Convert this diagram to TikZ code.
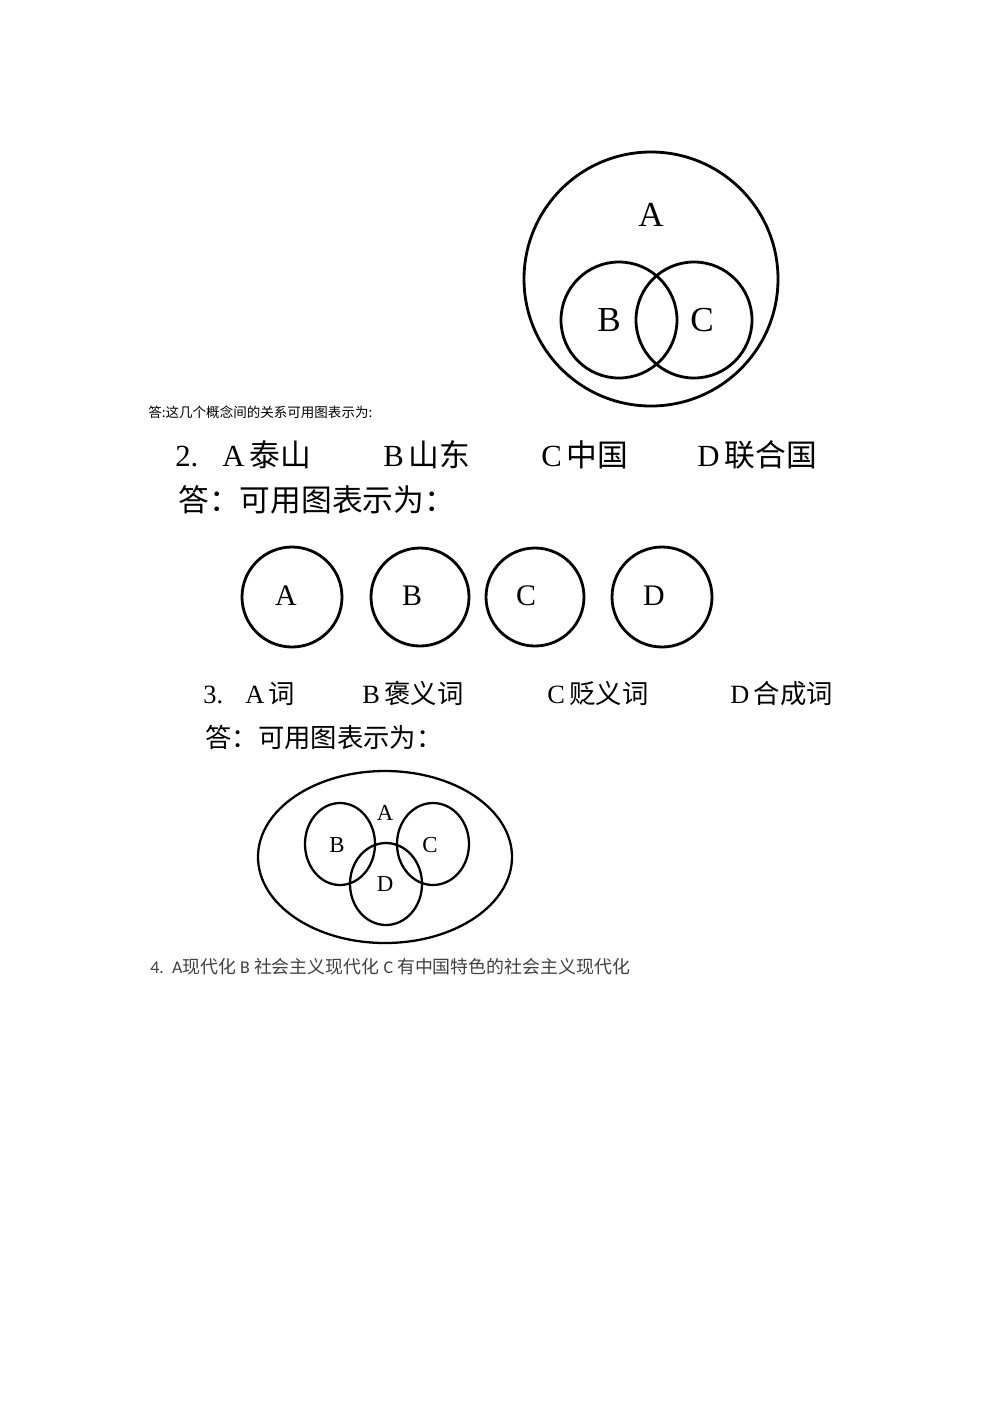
\documentclass[tikz,border=0pt]{standalone}
\usepackage{fontspec}
\setmainfont{Liberation Serif}
\newfontfamily\cjk{Noto Sans CJK SC}
\newfontfamily\calib{Carlito}
\usepackage{tikz}

\begin{document}
\begin{tikzpicture}[
    x=0.02cm,y=-0.02cm,ring/.style={line width=1.6pt},
    txt/.style={anchor=base west, inner sep=0pt},
    lab/.style={inner sep=0pt}
    ]
    \useasboundingbox (0,0) rectangle (992,1403);
    % first diagram
    \draw[ring] (651,279) circle (127);
    \draw[ring] (619,320) circle (58);
    \draw[ring] (694,320) circle (58);
    \node[lab, font=\fontsize{20}{22}\selectfont] (a1) at (651,215) {A};
    \node[lab, font=\fontsize{20}{22}\selectfont] (b1) at (609,320) {B};
    \node[lab, font=\fontsize{20}{22}\selectfont] (c1) at (702,320) {C};
    \node[txt, font=\fontsize{7.7}{9}\selectfont\cjk] (ans1) at (148,417) {答:这几个概念间的关系可用图表示为:};
    % question 2
    \node[txt, font=\fontsize{17.5}{19}\selectfont] (q2) at (175,466) {2.};
    \node[txt, font=\fontsize{17.5}{19}\selectfont] (q2a) at (222,466) {A\,{\cjk 泰山}};
    \node[txt, font=\fontsize{17.5}{19}\selectfont] (q2b) at (383,466) {B\,{\cjk 山东}};
    \node[txt, font=\fontsize{17.5}{19}\selectfont] (q2c) at (541,466) {C\,{\cjk 中国}};
    \node[txt, font=\fontsize{17.5}{19}\selectfont] (q2d) at (697,466) {D\,{\cjk 联合国}};
    \node[txt, font=\fontsize{17.5}{19}\selectfont\cjk] (ans2) at (178,511) {答：可用图表示为：};
    \draw[ring] (292,597) circle (50);
    \draw[ring] (420,597) circle (49);
    \draw[ring] (535,597) circle (49);
    \draw[ring] (662,597) circle (50);
    \node[lab, font=\fontsize{17}{19}\selectfont] (a2) at (286,596) {A};
    \node[lab, font=\fontsize{17}{19}\selectfont] (b2) at (412,596) {B};
    \node[lab, font=\fontsize{17}{19}\selectfont] (c2) at (526,596) {C};
    \node[lab, font=\fontsize{17}{19}\selectfont] (d2) at (654,596) {D};
    % question 3
    \node[txt, font=\fontsize{15}{17}\selectfont] (q3) at (203,703) {3.};
    \node[txt, font=\fontsize{15}{17}\selectfont] (q3a) at (245,703) {A\,{\cjk 词}};
    \node[txt, font=\fontsize{15}{17}\selectfont] (q3b) at (362,703) {B\,{\cjk 褒义词}};
    \node[txt, font=\fontsize{15}{17}\selectfont] (q3c) at (547,703) {C\,{\cjk 贬义词}};
    \node[txt, font=\fontsize{15}{17}\selectfont] (q3d) at (730,703) {D\,{\cjk 合成词}};
    \node[txt, font=\fontsize{15}{17}\selectfont\cjk] (ans3) at (205,747) {答：可用图表示为：};
    \draw[ring, line width=1.3pt] (385,857) ellipse (127 and 86);
    \draw[ring, line width=1.3pt] (340,844) ellipse (35 and 41);
    \draw[ring, line width=1.3pt] (433,844) ellipse (36 and 41);
    \draw[ring, line width=1.3pt] (386,884) ellipse (36 and 41);
    \node[lab, font=\fontsize{13}{15}\selectfont] (a3) at (385,813) {A};
    \node[lab, font=\fontsize{13}{15}\selectfont] (b3) at (337,845) {B};
    \node[lab, font=\fontsize{13}{15}\selectfont] (c3) at (430,845) {C};
    \node[lab, font=\fontsize{13}{15}\selectfont] (d3) at (385,884) {D};
    % question 4
    \node[txt, text=black!75, font=\fontsize{10.2}{12}\selectfont\calib] (q4) at (150,973)
      {4.\ \ A{\cjk 现代化} B {\cjk 社会主义现代化} C {\cjk 有中国特色的社会主义现代化}};
  \end{tikzpicture}
\end{document}
